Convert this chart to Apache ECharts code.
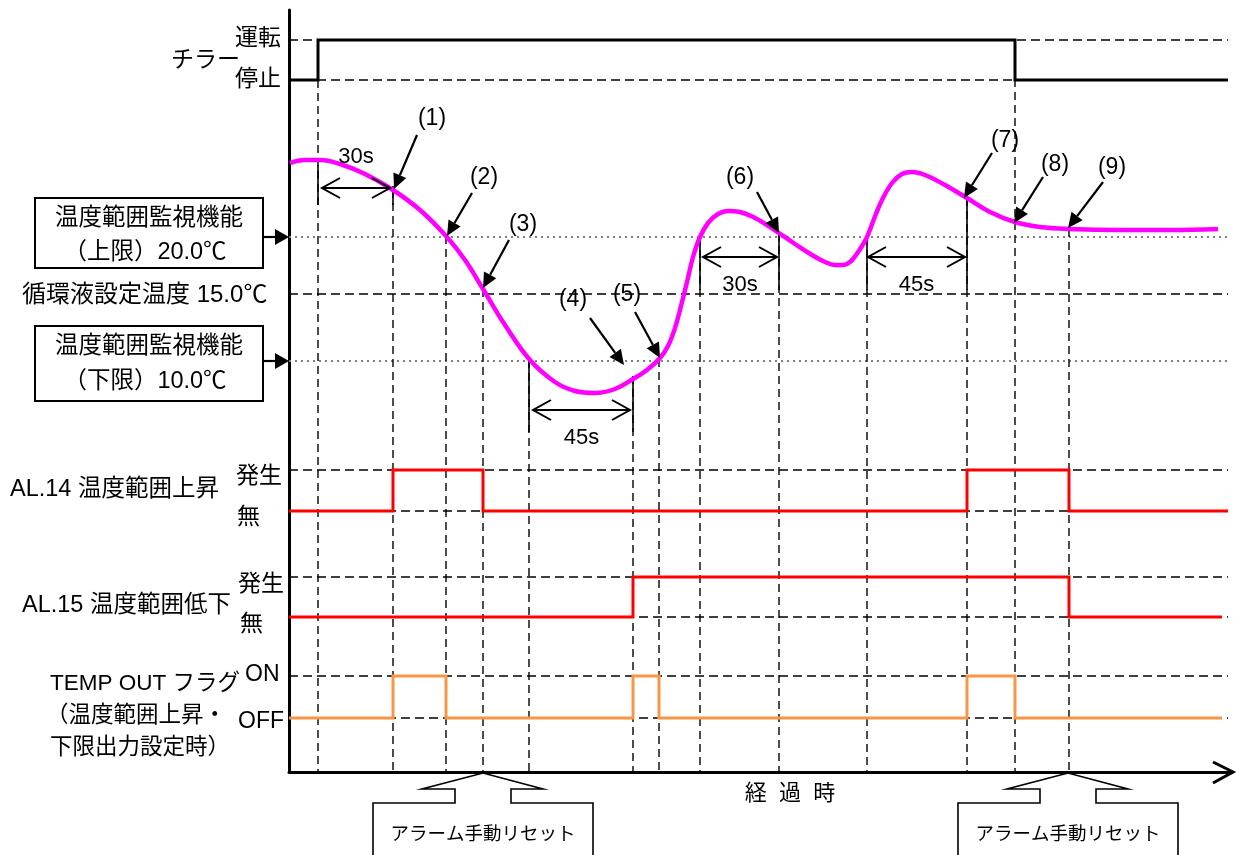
<!DOCTYPE html>
<html>
<head>
<meta charset="utf-8">
<script src="https://cdn.jsdelivr.net/npm/echarts@6/dist/echarts.min.js"></script>
<style>
  html, body { margin: 0; padding: 0; background: #ffffff; }
  #main { width: 1240px; height: 855px; }
</style>
</head>
<body>
<div id="main"></div>
<script>
  // 時間軸・レベルはどちらも図の座標単位 (1 単位 = 1px)
  const chiller = [[289,80],[318,80],[318,40],[1015,40],[1015,80],[1228,80]];
  const al14 = [[289,511],[393,511],[393,470],[483,470],[483,511],[967,511],[967,470],[1069,470],[1069,511],[1228,511]];
  const al15 = [[289,617],[633,617],[633,577],[1069,577],[1069,617],[1222,617]];
  const tempOut = [[289,718],[393,718],[393,676],[446,676],[446,718],[633,718],[633,676],[659,676],[659,718],
                   [967,718],[967,676],[1015,676],[1015,718],[1222,718]];
  // 循環液温度
  const tempCurve = [[290,163],[305,160],[320,160],[340,164],[365,174],[393,190],[420,210],[446,236],[465,260],
                     [483,289],[505,325],[530,360],[555,382],[575,391],[595,393],[615,389],[633,379],[647,370],
                     [660,358],[668,346],[675,328],[681,306],[687,282],[693,257],[700,237],[708,223],[718,214],
                     [728,211],[740,212],[755,218],[767,225],[779,233],[795,244],[812,255],[825,262],[835,265],
                     [843,265],[850,262],[856,255],[862,246],[867,237],[874,219],[882,200],[892,183],[902,174],
                     [912,172],[925,175],[945,185],[967,198],[990,212],[1015,222],[1040,227],
                     [1069,229],[1120,230],[1170,230],[1218,229]];
  // 基準レベル
  const dashLevels = [40,80,294,470,511,577,617,676,718];
  const dotLevels = [237,361];
  // 事象の時刻と縦破線の上端
  const eventTimes = [318,393,446,483,529,633,659,700,779,867,967,1015,1069];
  const eventTops = [80,190,236,289,360,376,359,237,233,237,198,40,229];
  // 経過時間の寸法
  const spanStart = [322,533,703,868];
  const spanEnd = [390,630,777,965];
  const spanLevel = [188,410,257,257];
  const spanLabels = ['30s','45s','30s','45s'];
  const spanTicks = [[318,165,205],[393,186,205],[529,360,432],[633,376,432],[700,237,290],[779,233,290],[867,237,290],[967,198,290]];
  // 番号付き矢印
  const markNames = ['(1)','(2)','(3)','(4)','(5)','(6)','(7)','(8)','(9)'];
  const markTips = [[394,189],[447,236],[483,288],[624,365],[660,358],[779,233],[964,198],[1014,223],[1068,228]];
  const markTails = [[417,135],[472,193],[509,240],[590,318],[635,312],[757,192],[992,153],[1043,177],[1103,182]];
  const markLabelPos = [[432,119],[484,178],[523,225],[573,300],[627,295],[740,178],[1005,141],[1055,165],[1112,168]];
  const resetTimes = [483,1068];

  const FONT = '"Liberation Sans","Noto Sans CJK JP",sans-serif';

  const chart = echarts.init(document.getElementById('main'));

  function seg(data, color, width, type, z) {
    return {
      type: 'line', data: data, symbol: 'none', silent: true, animation: false, z: z || 2,
      lineStyle: { color: color, width: width, type: type || 'solid', cap: 'butt', join: 'miter' }
    };
  }

  const series = [];
  dashLevels.forEach(function (y) {
    series.push(seg([[289, y], [1228, y]], '#000', 1.4, [9, 5], 1));
  });
  dotLevels.forEach(function (y) {
    series.push(seg([[289, y], [1230, y]], '#808080', 2, [2, 4], 1));
  });
  eventTimes.forEach(function (t, i) {
    series.push(seg([[t, eventTops[i]], [t, 772]], '#000', 1.4, [8, 5], 1));
  });
  spanTicks.forEach(function (s) {
    series.push(seg([[s[0], s[1]], [s[0], s[2]]], '#000', 1.6, 'solid', 1));
  });
  series.push(seg(chiller, '#000', 3, 'solid', 3));
  series.push(seg(al14, '#ff0000', 3, 'solid', 3));
  series.push(seg(al15, '#ff0000', 3, 'solid', 3));
  series.push(seg(tempOut, '#f79646', 3, 'solid', 3));
  const curve = seg(tempCurve, '#ff00ff', 4.5, 'solid', 4);
  curve.smooth = 0.4;
  curve.lineStyle.join = 'round';
  series.push(curve);

  // --- 注記 ---
  const g = [];
  function text(str, x, y, size, align, vAlign) {
    g.push({ type: 'text', z: 10, style: {
      text: str, x: x, y: y, fill: '#000', font: size + 'px ' + FONT,
      align: align || 'left', verticalAlign: vAlign || 'middle',
      textAlign: align || 'left', textVerticalAlign: vAlign || 'middle'
    }});
  }
  function line(x1, y1, x2, y2, w) {
    g.push({ type: 'line', z: 10, shape: { x1: x1, y1: y1, x2: x2, y2: y2 }, style: { stroke: '#000', lineWidth: w || 2 } });
  }
  function arrow(x1, y1, x2, y2, len, half) {
    const dx = x2 - x1, dy = y2 - y1, d = Math.sqrt(dx * dx + dy * dy);
    const ux = dx / d, uy = dy / d;
    const bx = x2 - ux * len, by = y2 - uy * len;
    line(x1, y1, bx, by, 2.2);
    g.push({ type: 'polygon', z: 10, shape: { points: [[x2, y2], [bx - uy * half, by + ux * half], [bx + uy * half, by - ux * half]] },
      style: { fill: '#000' } });
  }
  function chevron(x, y, dir) {
    g.push({ type: 'polyline', z: 10, shape: { points: [[x + dir * 18, y - 10], [x, y], [x + dir * 18, y + 10]] },
      style: { stroke: '#000', lineWidth: 2, fill: null } });
  }

  // 左側ラベル
  text('運転', 281, 39, 23, 'right');
  text('停止', 281, 80, 23, 'right');
  text('チラー', 171, 61, 23, 'left');
  g.push({ type: 'rect', z: 10, shape: { x: 35, y: 198, width: 228, height: 70 }, style: { fill: '#fff', stroke: '#000', lineWidth: 2 } });
  text('温度範囲監視機能', 149, 219, 23.5, 'center');
  text('（上限）20.0℃', 145, 253, 23.5, 'center');
  arrow(263, 237, 289, 237, 14, 8);
  text('循環液設定温度 15.0℃', 22, 295, 24, 'left');
  g.push({ type: 'rect', z: 10, shape: { x: 35, y: 326, width: 228, height: 75 }, style: { fill: '#fff', stroke: '#000', lineWidth: 2 } });
  text('温度範囲監視機能', 149, 347, 23.5, 'center');
  text('（下限）10.0℃', 145, 382, 23.5, 'center');
  arrow(263, 361, 289, 361, 14, 8);
  text('AL.14 温度範囲上昇', 10, 490, 23.5, 'left');
  text('発生', 282, 477, 23, 'right');
  text('無', 237, 518, 23, 'left');
  text('AL.15 温度範囲低下', 22, 606, 23.5, 'left');
  text('発生', 284, 585, 23, 'right');
  text('無', 240, 625, 23, 'left');
  text('TEMP OUT フラグ', 50, 684, 22.5, 'left');
  text('ON', 245, 675, 23, 'left');
  text('（温度範囲上昇・', 46, 716, 22.5, 'left');
  text('OFF', 238, 722, 23, 'left');
  text('下限出力設定時）', 50, 748, 22.5, 'left');
  text('経  過  時', 790, 794, 22, 'center');

  // 番号付き矢印
  markNames.forEach(function (n, i) {
    text(n, markLabelPos[i][0], markLabelPos[i][1], 23, 'center');
    arrow(markTails[i][0], markTails[i][1], markTips[i][0], markTips[i][1], 15, 7);
  });

  // 経過時間の寸法線
  spanLabels.forEach(function (lab, i) {
    const a = spanStart[i], b = spanEnd[i], y = spanLevel[i];
    line(a, y, b, y, 2);
    chevron(a, y, 1);
    chevron(b, y, -1);
    const ty = i === 0 ? 157 : y + 28;
    text(lab, (a + b) / 2, ty, 22, 'center');
  });

  // 横軸の矢印
  g.push({ type: 'polyline', z: 10, shape: { points: [[1213, 762], [1233, 772], [1213, 783]] },
    style: { stroke: '#000', lineWidth: 3, fill: null } });

  // アラーム手動リセットの吹き出し
  resetTimes.forEach(function (t) {
    g.push({ type: 'polyline', z: 10, shape: { points: [
      [t - 110, 856], [t - 110, 803], [t - 28, 803], [t - 28, 789], [t - 61, 789], [t, 773],
      [t + 60, 789], [t + 28, 789], [t + 28, 803], [t + 110, 803], [t + 110, 856]
    ] }, style: { stroke: '#000', lineWidth: 1.6, fill: '#fff' } });
    text('アラーム手動リセット', t, 835, 18.5, 'center');
  });

  chart.setOption({
    backgroundColor: '#ffffff',
    animation: false,
    grid: { left: 289, top: 10, width: 943, height: 762 },
    xAxis: {
      type: 'value', min: 289, max: 1232,
      axisLine: { show: true, onZero: false, lineStyle: { color: '#000', width: 3 } },
      axisTick: { show: false }, axisLabel: { show: false }, splitLine: { show: false }
    },
    yAxis: {
      type: 'value', min: 10, max: 772, inverse: true,
      axisLine: { show: true, onZero: false, lineStyle: { color: '#000', width: 3 } },
      axisTick: { show: false }, axisLabel: { show: false }, splitLine: { show: false }
    },
    series: series,
    graphic: g
  });
</script>
</body>
</html>
